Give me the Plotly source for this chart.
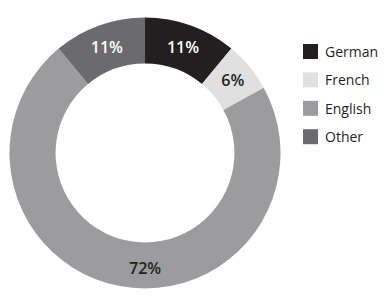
import math
import plotly.graph_objects as go

labels = ["German", "French", "English", "Other"]
values = [11, 6, 72, 11]
colors = ["#231f20", "#e0e0e1", "#9c9c9e", "#6b6b6d"]
text_colors = ["#ffffff", "#231f20", "#231f20", "#ffffff"]

W, H = 387, 298
HOLE = 0.66
dom_x = [9.5 / W, 280.5 / W]
dom_y = [(H - 289) / H, (H - 17) / H]

# English label is placed at the bottom of the ring (annotation), others inside slices
templates = ["%{value}%", "%{value}%", "", "%{value}%"]

fig = go.Figure(go.Pie(
    labels=labels,
    values=values,
    hole=HOLE,
    sort=False,
    direction="clockwise",
    rotation=0,
    marker=dict(colors=colors, line=dict(width=0)),
    texttemplate=templates,
    textposition="inside",
    insidetextorientation="horizontal",
    insidetextfont=dict(color=text_colors, size=16, family="Open Sans", weight=600),
    domain=dict(x=dom_x, y=dom_y),
    showlegend=False,
    hoverinfo="label+percent",
))

# custom legend
shapes = []
annotations = []
y0 = 51.5
step = 28.4
for i, (lab, col) in enumerate(zip(labels, colors)):
    cy = y0 + i * step
    shapes.append(dict(type="rect", xref="paper", yref="paper",
                       x0=303 / W, x1=318 / W,
                       y0=(H - (cy + 7.5)) / H, y1=(H - (cy - 7.5)) / H,
                       fillcolor=col, line=dict(width=0)))
    annotations.append(dict(x=323 / W, y=(H - cy) / H, xref="paper", yref="paper",
                            text=lab, showarrow=False, xanchor="left", yanchor="middle",
                            font=dict(family="Open Sans", size=14, color="#231f20")))

# English label at the bottom middle of the ring
cx = (dom_x[0] + dom_x[1]) / 2
cyp = (dom_y[0] + dom_y[1]) / 2
r_out = (dom_y[1] - dom_y[0]) / 2 * H
r_mid = r_out * (1 + HOLE) / 2
annotations.append(dict(x=cx, y=cyp - (r_mid + 2) / H, xref="paper", yref="paper",
                        text=f"{values[2]}%", showarrow=False,
                        xanchor="center", yanchor="middle",
                        font=dict(family="Open Sans", size=16, color=text_colors[2], weight=600)))

fig.update_layout(
    width=W, height=H,
    margin=dict(l=0, r=0, t=0, b=0),
    paper_bgcolor="white", plot_bgcolor="white",
    shapes=shapes, annotations=annotations,
)

fig.write_html("out.html")
